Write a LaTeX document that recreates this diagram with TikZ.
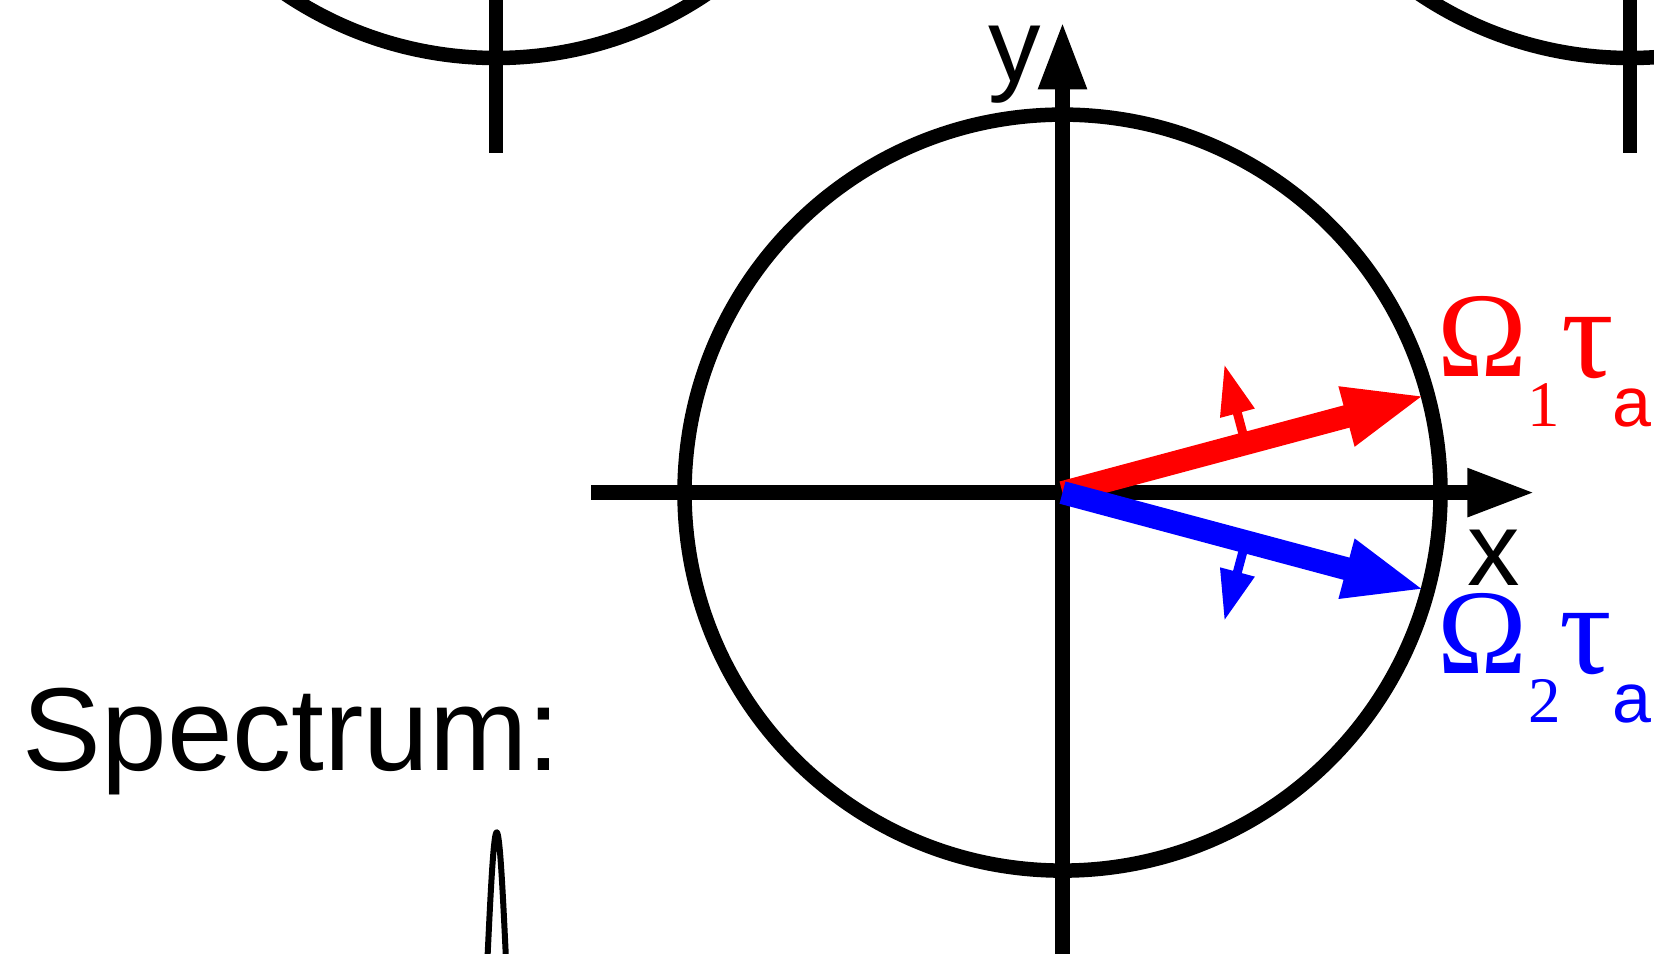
\documentclass[tikz,border=0pt]{standalone}
\usepackage{fontspec}
\setmainfont{Liberation Sans}
\setsansfont{Liberation Sans}
\newfontfamily\grk{Liberation Serif}
\usetikzlibrary{arrows.meta,calc}
\definecolor{vred}{RGB}{255,0,0}
\definecolor{vblue}{RGB}{0,0,255}
\tikzset{
  ring/.style={line width=14.5pt},
  axisline/.style={line width=14.3pt, -{Triangle[length=67.6pt,width=45pt]}},
  vecbig/.style={line width=23pt, -{Triangle[length=82pt,width=55.5pt]}},
  vecsmall/.style={line width=9pt, -{Triangle[length=50.6pt,width=33.3pt]}},
  lbl/.style={inner sep=0pt, outer sep=0pt, anchor=base},
  bigomega/.style={lbl, text height=82pt, text depth=0pt, font=\grk\fontsize{121}{121}\selectfont},
  tausym/.style={lbl, text height=62pt, text depth=3pt, font=\grk\fontsize{131}{131}\selectfont},
  subnum/.style={lbl, text height=44pt, text depth=0pt, font=\grk\fontsize{65}{65}\selectfont},
  suba/.style={lbl, text height=38pt, text depth=1pt, font=\fontsize{70}{70}\selectfont},
  axlbl/.style={lbl, font=\sffamily\fontsize{105}{105}\selectfont},
}
\begin{document}
\begin{tikzpicture}[x=1pt,y=-1pt]
\useasboundingbox (0,0) rectangle (1654,953);
\clip (0,0) rectangle (1654,953);
% partial circles of the row above
\coordinate (CL) at (496,-320);
\coordinate (CR) at (1630,-320);
\draw[ring] (CL) circle[radius=378];
\draw[ring] (CR) circle[radius=378];
\coordinate (CLb) at (496,153);
\coordinate (CRb) at (1630,153);
\draw[ring] (CL) -- (CLb);
\draw[ring] (CR) -- (CRb);
% main circle and axes
\coordinate (O) at (1062.5,492.6);
\draw[ring] (O) circle[radius=378];
\coordinate (xs) at (591,492.6);
\coordinate (xe) at (1535,492.6);
\coordinate (ys) at (1062.5,1000);
\coordinate (ye) at (1062.5,21.7);
\draw[axisline] (xs) -- (xe);
\draw[axisline] (ys) -- (ye);
\node[axlbl, text height=54pt, text depth=0pt] (xl) at (1493.3,585) {x};
\node[axlbl, text height=54pt, text depth=21pt] (yl) at (1014.5,81) {y};
% red vector
\coordinate (T1) at ($(O)+(-15:376)$);
\coordinate (M1) at ($(O)+(-15:189.5)$);
\coordinate (S1) at ($(M1)+(-105:82)$);
\draw[vecsmall, vred] (M1) -- (S1);
\draw[vecbig, vred] (O) -- (T1);
% blue vector
\coordinate (T2) at ($(O)+(15:376)$);
\coordinate (M2) at ($(O)+(15:189.5)$);
\coordinate (S2) at ($(M2)+(105:82)$);
\draw[vecsmall, vblue] (M2) -- (S2);
\draw[vecbig, vblue] (O) -- (T2);
% labels
\node[bigomega, text=vred] (om1) at (1482.3,376.7) {Ω};
\node[subnum, text=vred] (n1) at (1544,426.7) {1};
\node[tausym, text=vred] (ta1) at (1587.5,377.5) {τ};
\node[suba, text=vred] (a1) at (1631.7,426.7) {a};
\node[bigomega, text=vblue] (om2) at (1482.3,673) {Ω};
\node[subnum, text=vblue] (n2) at (1544.3,722.5) {2};
\node[tausym, text=vblue] (ta2) at (1586,673) {τ};
\node[suba, text=vblue] (a2) at (1631.7,722.5) {a};
% spectrum
\node[lbl, anchor=base west, font=\fontsize{118}{118}\selectfont] (spec) at (22.8,770) {Spectrum:};
\draw[line width=6pt] plot[domain=470:523, samples=300, smooth] (\x, {1400-567.5/(1+((\x-496.7)/17.3)^2)});
\end{tikzpicture}
\end{document}
